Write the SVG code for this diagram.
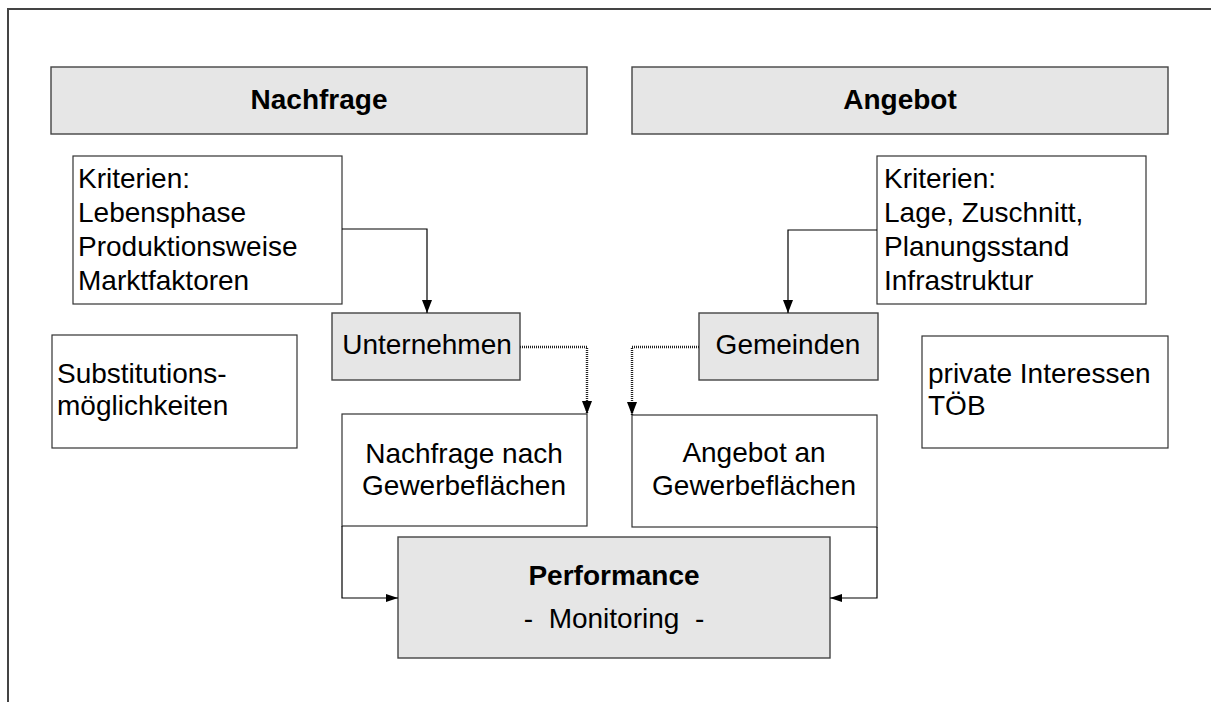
<svg xmlns="http://www.w3.org/2000/svg" width="1211" height="702" viewBox="0 0 1211 702">
<style>
.box{fill:#ffffff;stroke:#333;stroke-width:1.2}
.gbox{fill:#e6e6e6;stroke:#444;stroke-width:1.4}
.t{font-family:"Liberation Sans",Arial,sans-serif;font-size:28px;fill:#000}
.b{font-weight:bold}
.c{text-anchor:middle}
.ln{fill:none;stroke:#000;stroke-width:1.2}
.dl{fill:none;stroke:#222;stroke-width:2.4;stroke-dasharray:1 1}
</style>
<defs>
<marker id="ah" markerWidth="13" markerHeight="10" refX="13" refY="5" orient="auto" markerUnits="userSpaceOnUse">
<path d="M0,0 L13,5 L0,10 Z" fill="#000"/>
</marker>
<marker id="ahs" markerWidth="12" markerHeight="8" refX="12" refY="4" orient="auto" markerUnits="userSpaceOnUse">
<path d="M0,0 L12,4 L0,8 Z" fill="#000"/>
</marker>
</defs>
<rect width="1211" height="702" fill="#fff"/>
<path d="M8,702 L8,9 L1211,9" fill="none" stroke="#444" stroke-width="2"/>

<g id="nachfrage">
<rect class="gbox" x="51" y="67" width="536" height="67"/>
<text class="t b c" x="319" y="109">Nachfrage</text>
</g>
<g id="angebot">
<rect class="gbox" x="632" y="67" width="536" height="67"/>
<text class="t b c" x="900" y="109">Angebot</text>
</g>
<g id="kriterien-links">
<rect class="box" x="73" y="156" width="269" height="148"/>
<text class="t" x="78" y="188">Kriterien:</text>
<text class="t" x="78" y="222">Lebensphase</text>
<text class="t" x="78" y="256">Produktionsweise</text>
<text class="t" x="78" y="290">Marktfaktoren</text>
</g>
<g id="kriterien-rechts">
<rect class="box" x="877" y="156" width="269" height="148"/>
<text class="t" x="884" y="188">Kriterien:</text>
<text class="t" x="884" y="222">Lage, Zuschnitt,</text>
<text class="t" x="884" y="256">Planungsstand</text>
<text class="t" x="884" y="290">Infrastruktur</text>
</g>
<g id="unternehmen">
<rect class="gbox" x="332" y="313" width="188" height="67"/>
<text class="t c" x="427" y="354">Unternehmen</text>
</g>
<g id="gemeinden">
<rect class="gbox" x="699" y="313" width="179" height="67"/>
<text class="t c" x="788" y="354">Gemeinden</text>
</g>
<g id="substitution">
<rect class="box" x="52" y="335" width="245" height="113"/>
<text class="t" x="57" y="383">Substitutions-</text>
<text class="t" x="57" y="415">möglichkeiten</text>
</g>
<g id="private">
<rect class="box" x="922" y="336" width="246" height="112"/>
<text class="t" x="928" y="383">private Interessen</text>
<text class="t" x="928" y="415">TÖB</text>
</g>
<g id="nachfrage-gewerbe">
<rect class="box" x="342" y="414" width="245" height="112"/>
<text class="t c" x="464" y="463">Nachfrage nach</text>
<text class="t c" x="464" y="495">Gewerbeflächen</text>
</g>
<g id="angebot-gewerbe">
<rect class="box" x="632" y="415" width="245" height="112"/>
<text class="t c" x="754" y="462">Angebot an</text>
<text class="t c" x="754" y="495">Gewerbeflächen</text>
</g>
<g id="performance">
<rect class="gbox" x="398" y="537" width="432" height="121"/>
<text class="t b c" x="614" y="585">Performance</text>
<text class="t c" x="614" y="628" xml:space="preserve">-  Monitoring  -</text>
</g>

<g id="connectors">
<path class="ln" d="M342,229 L427,229 L427,313" marker-end="url(#ah)"/>
<path class="ln" d="M877,230 L788,230 L788,313" marker-end="url(#ah)"/>
<path class="dl" d="M520,347 L587,347 L587,414" marker-end="url(#ah)"/>
<path class="dl" d="M699,347 L632,347 L632,415" marker-end="url(#ah)"/>
<path class="ln" d="M342,526 L342,598 L398,598" marker-end="url(#ahs)"/>
<path class="ln" d="M877,527 L877,598 L830,598" marker-end="url(#ahs)"/>
</g>
</svg>
